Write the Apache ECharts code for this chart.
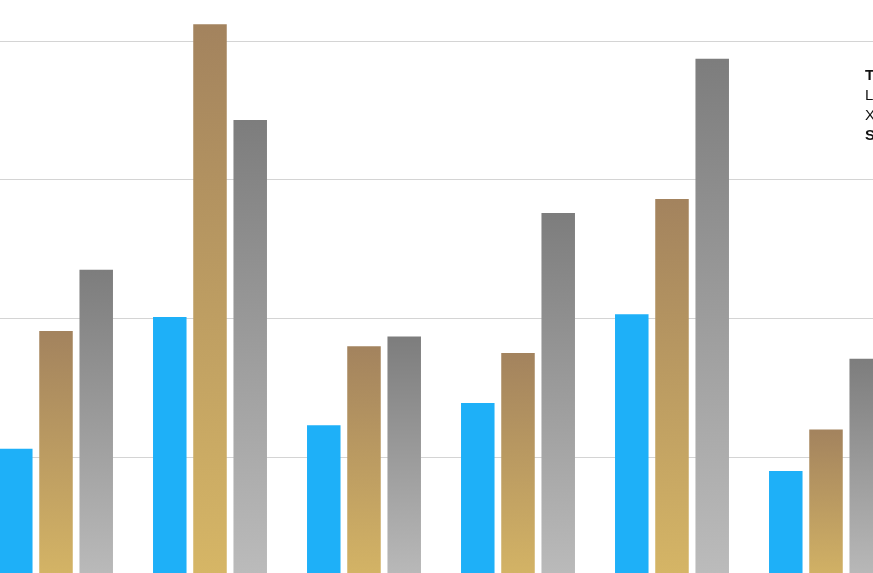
<!DOCTYPE html>
<html>
<head>
<meta charset="utf-8">
<script src="https://cdn.jsdelivr.net/npm/echarts@6/dist/echarts.min.js"></script>
<style>
  html, body { margin: 0; padding: 0; background: #fff; width: 873px; height: 573px; overflow: hidden; position: relative; }
  #main { position: absolute; left: -21px; top: -98px; width: 924px; height: 694px; }
</style>
</head>
<body>
<div id="main"></div>
<script>
var categories = ['Q1', 'Q2', 'Q3', 'Q4', 'Q5', 'Q6'];
var seriesNames = ['Lorem', 'Xpress', 'Sigma'];
var blueValues = [106, 201, 123, 139, 203, 90];
var goldValues = [191, 412, 180, 175, 286, 120];
var grayValues = [235, 343, 187, 276, 387, 171];
var yTicks = [0, 100, 200, 300, 400, 500];
var noteLines = ['Total', 'Lorem', 'Xpress', 'Sigma'];

// the chart is larger than the window and shifted, so only a crop shows
var offX = 21, offY = 98;

var myChart = echarts.init(document.getElementById('main'));

function vGrad(top, bottom) {
    return new echarts.graphic.LinearGradient(0, 0, 0, 1, [
        { offset: 0, color: top },
        { offset: 1, color: bottom }
    ]);
}

var option = {
    backgroundColor: '#fff',
    animation: false,
    grid: {
        left: 0,
        right: 0,
        top: 0,
        bottom: 0,
        containLabel: false
    },
    xAxis: {
        type: 'category',
        data: categories,
        axisLine: { show: false },
        axisTick: { show: false },
        axisLabel: { show: false }
    },
    yAxis: {
        type: 'value',
        min: yTicks[0],
        max: yTicks[yTicks.length - 1],
        interval: 100,
        axisLine: { show: false },
        axisTick: { show: false },
        axisLabel: { show: false },
        splitLine: { lineStyle: { color: '#d4d4d4', width: 1 } }
    },
    series: [{
        name: seriesNames[0],
        type: 'bar',
        data: blueValues,
        barGap: '20%',
        barCategoryGap: '26%',
        itemStyle: { color: '#1eb0f8' }
    }, {
        name: seriesNames[1],
        type: 'bar',
        data: goldValues,
        itemStyle: { color: vGrad('#a3835e', '#d8b866') }
    }, {
        name: seriesNames[2],
        type: 'bar',
        data: grayValues,
        itemStyle: { color: vGrad('#7d7d7d', '#bebebe') }
    }],
    graphic: noteLines.map(function (t, i) {
        return {
            type: 'text',
            left: 865 + offX,
            top: 68 + offY + i * 20,
            style: {
                text: t,
                fill: '#111',
                font: ((i === 0 || i === 3) ? 'bold ' : '') + '15px "Liberation Sans", Arial, sans-serif'
            }
        };
    })
};

myChart.setOption(option);
</script>
</body>
</html>
